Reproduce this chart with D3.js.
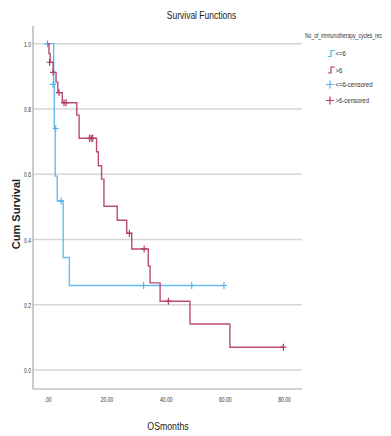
<!DOCTYPE html>
<html>
<head>
<meta charset="utf-8">
<script src="https://cdn.jsdelivr.net/npm/d3@7"></script>
<style>
  html, body { margin: 0; padding: 0; background: #fff; }
  svg { display: block; }
</style>
</head>
<body>
<svg id="chart" width="391" height="436"></svg>
<script>
// Kaplan-Meier estimates by number of immunotherapy cycles
const groups = ["<=6", ">6"];
const legendLabels = ["<=6", ">6", "<=6-censored", ">6-censored"];

// "<=6": event times (months) and survival after each event
const lowTimes = [0, 2.1, 2.3, 2.6, 3.3, 5.3, 7.4];
const lowSurv  = [1.0, 0.875, 0.74, 0.594, 0.518, 0.345, 0.259];
const lowEnd = 59.7;
const lowCensorTimes = [0, 1.9, 2.8, 4.6, 32.5, 48.8, 59.7];
const lowCensorSurv  = [1.0, 0.875, 0.74, 0.518, 0.259, 0.259, 0.259];

// ">6": event times (months) and survival after each event
const highTimes = [0, 0.5, 0.9, 1.9, 2.9, 3.5, 5.0, 9.9, 10.7, 16.6, 17.2, 18.3, 19.1, 23.6, 26.8, 28.5, 34.1, 34.7, 38.1, 48.2, 61.7];
const highSurv  = [1.0, 0.97, 0.943, 0.912, 0.882, 0.85, 0.819, 0.781, 0.71, 0.669, 0.626, 0.585, 0.502, 0.459, 0.419, 0.371, 0.319, 0.267, 0.211, 0.141, 0.07];
const highEnd = 79.8;
const highCensorTimes = [0.7, 1.9, 3.9, 5.6, 6.3, 14.2, 14.8, 15.3, 27.7, 32.7, 40.9, 79.8];
const highCensorSurv  = [0.943, 0.912, 0.85, 0.819, 0.819, 0.71, 0.71, 0.71, 0.419, 0.371, 0.211, 0.07];

const xTicks = [0, 20, 40, 60, 80];
const xTickLabels = [".00", "20.00", "40.00", "60.00", "80.00"];
const yTicks = [0, 0.2, 0.4, 0.6, 0.8, 1.0];
const yTickLabels = ["0.0", "0.2", "0.4", "0.6", "0.8", "1.0"];

const colors = { "<=6": "#55b5ea", ">6": "#b23a66" };
const gridColor = "#d6d6d6";
const axisColor = "#a8a8a8";
const baseFont = "\"Liberation Sans\", Arial, sans-serif";

const svg = d3.select("#chart");
const plotLeft = 33, plotRight = 302, plotTop = 26, plotBottom = 389;

const x = d3.scaleLinear().domain([-4.9, 86.1]).range([plotLeft, plotRight]);
const y = d3.scaleLinear().domain([-0.058, 1.054]).range([plotBottom, plotTop]);

// Narrow a text horizontally about its anchor point, like a condensed face
function condense(sel, factor) {
  sel.each(function () {
    const t = d3.select(this);
    const ax = +(t.attr("x") || 0);
    const prev = t.attr("transform") || "";
    t.attr("transform", `${prev} translate(${ax},0) scale(${factor},1) translate(${-ax},0)`);
  });
}

// Horizontal gridlines
svg.append("g").selectAll("line")
  .data(yTicks).join("line")
  .attr("x1", plotLeft).attr("x2", plotRight)
  .attr("y1", d => y(d)).attr("y2", d => y(d))
  .attr("stroke", gridColor).attr("stroke-width", 1.5);

// Axes
const yAxis = svg.append("g")
  .attr("transform", `translate(${plotLeft},0)`)
  .call(d3.axisLeft(y).tickValues(yTicks).tickSize(0).tickPadding(2)
    .tickFormat((d, i) => yTickLabels[i]));
yAxis.select(".domain").attr("stroke", axisColor).attr("stroke-width", 1.2)
  .attr("d", `M0,${plotTop}V${plotBottom}`);
yAxis.selectAll("text").attr("font-size", 8).attr("fill", "#333")
  .attr("font-family", baseFont).call(condense, 0.62);

const xAxis = svg.append("g")
  .attr("transform", `translate(0,${plotBottom})`)
  .call(d3.axisBottom(x).tickValues(xTicks).tickSize(0).tickPadding(7)
    .tickFormat((d, i) => xTickLabels[i]));
xAxis.select(".domain").attr("stroke", axisColor).attr("stroke-width", 1.2)
  .attr("d", `M${plotLeft},0H${plotRight}`);
xAxis.selectAll("text").attr("font-size", 8).attr("fill", "#333")
  .attr("font-family", baseFont).call(condense, 0.63);

// Step curves
function stepPoints(times, surv, end) {
  const pts = times.map((t, i) => [t, surv[i]]);
  pts.push([end, surv[surv.length - 1]]);
  return pts;
}
const line = d3.line().x(d => x(d[0])).y(d => y(d[1])).curve(d3.curveStepAfter);

const series = [
  { key: "<=6", pts: stepPoints(lowTimes, lowSurv, lowEnd), ct: lowCensorTimes, cs: lowCensorSurv },
  { key: ">6", pts: stepPoints(highTimes, highSurv, highEnd), ct: highCensorTimes, cs: highCensorSurv }
];

series.forEach(s => {
  svg.append("path").datum(s.pts)
    .attr("d", line).attr("fill", "none")
    .attr("stroke", colors[s.key]).attr("stroke-width", 1.4)
    .attr("stroke-opacity", 0.9);
  // Censored observations as "+" marks
  const g = svg.append("g");
  s.ct.forEach((t, i) => {
    const cx = x(t), cy = y(s.cs[i]);
    g.append("path")
      .attr("d", `M${cx - 3},${cy}H${cx + 3}M${cx},${cy - 3.5}V${cy + 3.5}`)
      .attr("stroke", colors[s.key]).attr("stroke-width", 1.2).attr("fill", "none");
  });
});

// Titles
svg.append("text").attr("x", 201.5).attr("y", 19.5).attr("text-anchor", "middle")
  .attr("font-family", baseFont)
  .attr("font-size", 11.5).attr("fill", "#1a1a1a").text("Survival Functions")
  .call(condense, 0.74);

svg.append("text").attr("transform", "translate(20,214) rotate(-90)")
  .attr("text-anchor", "middle").attr("font-weight", "bold")
  .attr("font-family", baseFont)
  .attr("font-size", 11).attr("fill", "#222").text("Cum Survival");

svg.append("text").attr("x", 168).attr("y", 430).attr("text-anchor", "middle")
  .attr("font-family", baseFont)
  .attr("font-size", 11.5).attr("fill", "#1a1a1a").text("OSmonths")
  .call(condense, 0.76);

// Legend
const leg = svg.append("g").attr("font-family", baseFont).attr("fill", "#333");
leg.append("text").attr("x", 305).attr("y", 38).attr("font-size", 6.5)
  .text("No_of_immunotherapy_cycles_rec").call(condense, 0.77);
const legY = [53.5, 70, 84.5, 100.5];
legendLabels.forEach((lab, i) => {
  const ly = legY[i];
  const key = groups[i % 2];
  const c = colors[key];
  if (i < 2) {
    leg.append("path")
      .attr("d", `M328,${ly + 3}H331V${ly - 3}H335`)
      .attr("stroke", c).attr("stroke-width", 1.2).attr("fill", "none");
  } else {
    leg.append("path")
      .attr("d", `M326,${ly}H334M330,${ly - 4}V${ly + 4}`)
      .attr("stroke", c).attr("stroke-width", 1.2).attr("fill", "none");
  }
  leg.append("text").attr("x", 335.5).attr("y", ly + 3).attr("font-size", 7.5).text(lab)
    .call(condense, 0.8);
});
</script>
</body>
</html>
